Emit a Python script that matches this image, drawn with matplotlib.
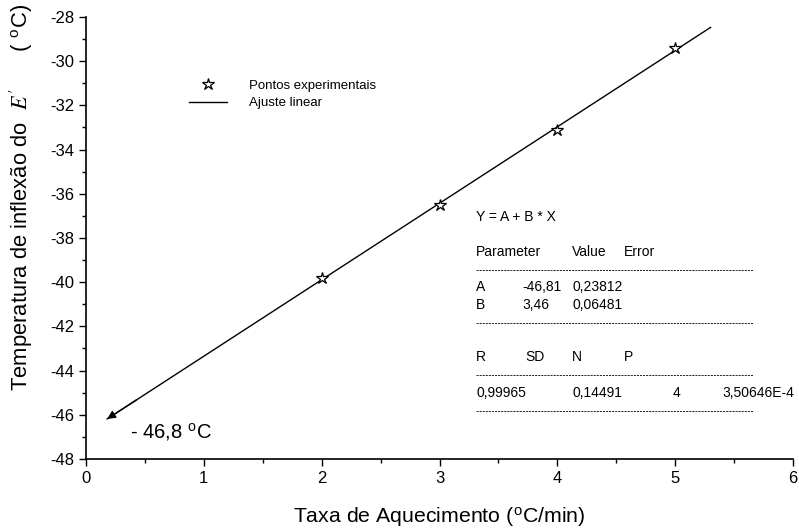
import matplotlib
matplotlib.use("Agg")
import matplotlib.pyplot as plt
import numpy as np
from matplotlib.ticker import MultipleLocator
from matplotlib.legend_handler import HandlerLine2D

plt.rcParams['font.family'] = ['Liberation Sans', 'DejaVu Sans']
plt.rcParams['mathtext.fontset'] = 'stix'
plt.rcParams['axes.unicode_minus'] = False

# heating rate (oC/min) vs inflection temperature of E'
taxa = [2, 3, 4, 5]
temp = [-39.8, -36.5, -33.1, -29.4]

# linear fit Y = A + B*X
A, B = -46.81, 3.46
A_err, B_err = 0.23812, 0.06481
R, SD, N, P = "0,99965", "0,14491", "4", "3,50646E-4"
x_fit = [0.18, 5.3]


def br(v, fmt):
    return (fmt % v).replace('.', ',')


class RightMarker(HandlerLine2D):
    # put the legend symbol at the right end of the handle box
    def get_xdata(self, legend, xdescent, ydescent, width, height, fontsize):
        xdata, _ = super().get_xdata(legend, xdescent, ydescent, width, height, fontsize)
        return xdata, np.array([0.92 * width - xdescent])


fig = plt.figure(figsize=(7.99, 5.30), dpi=100)
ax = fig.add_axes([0.1076, 0.134, 0.885, 0.834])

xf = np.array(x_fit)
yf = A + B * xf
ln, = ax.plot(xf, yf, color='black', lw=1.0, label='Ajuste linear')
pts, = ax.plot(taxa, temp, ls='none', marker='*', ms=9, mfc='white', mec='black',
               mew=0.9, label='Pontos experimentais')
# arrow head at the intercept end of the fit
ax.annotate('', xy=(xf[0], yf[0]), xytext=(xf[0] + 0.25, yf[0] + 0.25 * B),
            arrowprops=dict(arrowstyle='-|>', color='black', lw=1.0,
                            mutation_scale=12, shrinkA=0, shrinkB=0))
ax.text(0.37, -46.8, '- 46,8 $^\\mathregular{o}$C', fontsize=14.5, va='center')

ax.legend([pts, ln], ['Pontos experimentais', 'Ajuste linear'], loc='upper left',
          bbox_to_anchor=(0.1295, 0.885), frameon=False, fontsize=9.5,
          handlelength=2.88, handletextpad=1.65, labelspacing=0.4,
          handler_map={pts: RightMarker()})

# fit report
fs = 10
c0, c1, c2, c3, c4, c5 = 3.31, 3.70, 4.125, 4.566, 4.98, 5.40
ax.text(c0, -37.05, 'Y = A + B * X', fontsize=fs, va='center')
ax.text(c0, -38.63, 'Parameter', fontsize=fs, va='center')
ax.text(c2, -38.63, 'Value', fontsize=fs, va='center')
ax.text(c3, -38.63, 'Error', fontsize=fs, va='center')
ax.hlines([-39.45, -41.85, -44.2, -45.83], c0, 5.66, colors='black', lw=0.6,
          linestyles=(0, (2.5, 1.2)))
ax.text(c0, -40.22, 'A', fontsize=fs, va='center')
ax.text(c1, -40.22, br(A, '%.2f'), fontsize=fs, va='center')
ax.text(c2, -40.22, br(A_err, '%.5f'), fontsize=fs, va='center')
ax.text(c0, -41.03, 'B', fontsize=fs, va='center')
ax.text(c1, -41.03, br(B, '%.2f'), fontsize=fs, va='center')
ax.text(c2, -41.03, br(B_err, '%.5f'), fontsize=fs, va='center')
ax.text(c0, -43.38, 'R', fontsize=fs, va='center')
ax.text(3.726, -43.38, 'SD', fontsize=fs, va='center')
ax.text(c2, -43.38, 'N', fontsize=fs, va='center')
ax.text(c3, -43.38, 'P', fontsize=fs, va='center')
ax.text(c0, -45.01, R, fontsize=fs, va='center')
ax.text(c2, -45.01, SD, fontsize=fs, va='center')
ax.text(c4, -45.01, N, fontsize=fs, va='center')
ax.text(c5, -45.01, P, fontsize=fs, va='center')

ax.set_xlim(0, 6)
ax.set_ylim(-48, -28)
ax.xaxis.set_major_locator(MultipleLocator(1))
ax.xaxis.set_minor_locator(MultipleLocator(0.5))
ax.yaxis.set_major_locator(MultipleLocator(2))
ax.yaxis.set_minor_locator(MultipleLocator(1))
ax.tick_params(which='major', direction='out', length=5, width=1, labelsize=12)
ax.tick_params(which='minor', direction='out', length=3, width=1)
for s in ['top', 'right']:
    ax.spines[s].set_visible(False)
for s in ['left', 'bottom']:
    ax.spines[s].set_linewidth(1.2)

ax.set_xlabel('Taxa de Aquecimento ($^\\mathregular{o}$C/min)', fontsize=15.3)
ax.xaxis.set_label_coords(0.5, -0.106)
ax.set_ylabel("Temperatura de inflexão do  $E\\,'$      ( $^\\mathregular{o}$C)",
              fontsize=15.8)
ax.yaxis.set_label_coords(-0.072, 0.592)

fig.savefig('out.png', dpi=100)
